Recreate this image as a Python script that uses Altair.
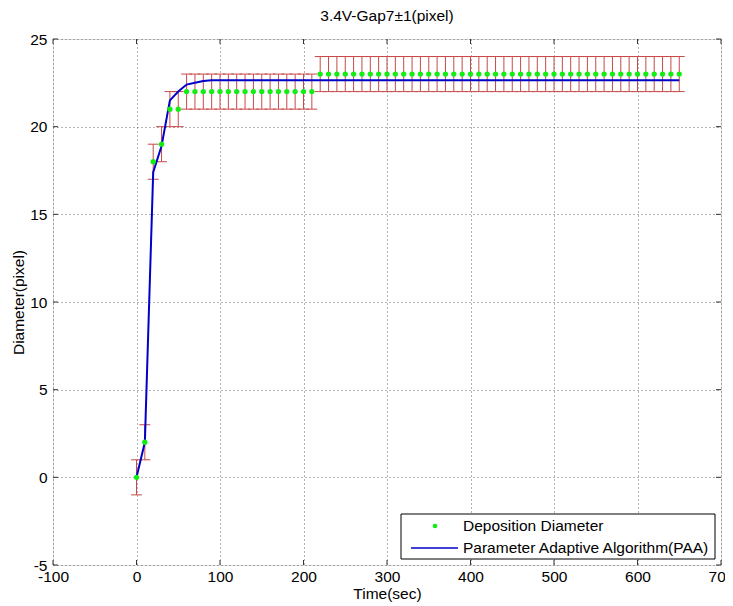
import altair as alt
import pandas as pd

# ---- data ----
time_sec = [0, 10, 20, 30, 40, 50, 60, 70, 80, 90, 100, 110, 120, 130, 140, 150,
            160, 170, 180, 190, 200, 210, 220, 230, 240, 250, 260, 270, 280, 290,
            300, 310, 320, 330, 340, 350, 360, 370, 380, 390, 400, 410, 420, 430,
            440, 450, 460, 470, 480, 490, 500, 510, 520, 530, 540, 550, 560, 570,
            580, 590, 600, 610, 620, 630, 640, 650]
deposition = [0, 2, 18, 19, 21, 21,
              22, 22, 22, 22, 22, 22, 22, 22, 22, 22, 22, 22, 22, 22, 22, 22,
              23, 23, 23, 23, 23, 23, 23, 23, 23, 23, 23, 23, 23, 23, 23, 23,
              23, 23, 23, 23, 23, 23, 23, 23, 23, 23, 23, 23, 23, 23, 23, 23,
              23, 23, 23, 23, 23, 23, 23, 23, 23, 23, 23, 23]
paa = [0, 2, 17.4, 18.9, 21.5, 22.0, 22.4, 22.5, 22.6, 22.65, 22.65, 22.65,
       22.65, 22.65, 22.65, 22.65, 22.65, 22.65, 22.65, 22.65, 22.65, 22.65,
       22.65, 22.65, 22.65, 22.65, 22.65, 22.65, 22.65, 22.65, 22.65, 22.65,
       22.65, 22.65, 22.65, 22.65, 22.65, 22.65, 22.65, 22.65, 22.65, 22.65,
       22.65, 22.65, 22.65, 22.65, 22.65, 22.65, 22.65, 22.65, 22.65, 22.65,
       22.65, 22.65, 22.65, 22.65, 22.65, 22.65, 22.65, 22.65, 22.65, 22.65,
       22.65, 22.65, 22.65, 22.65]
error = 1
x_ticks = [-100, 0, 100, 200, 300, 400, 500, 600, 700]
y_ticks = [-5, 0, 5, 10, 15, 20, 25]
legend_labels = ["Deposition Diameter", "Parameter Adaptive Algorithm(PAA)"]
title_text = "3.4V-Gap7±1(pixel)"

FONT = "Liberation Sans"
FS = 15.5
W, H = 668, 526
CAP = 6.5

df = pd.DataFrame({"t": time_sec, "d": deposition})
df_line = pd.DataFrame({"t": time_sec, "p": paa})
df_xt = pd.DataFrame({"v": x_ticks})
df_yt = pd.DataFrame({"v": y_ticks})

xscale = alt.Scale(domain=[-100, 700], nice=False, zero=False)
yscale = alt.Scale(domain=[-5, 25], nice=False, zero=False)

grid_kw = dict(grid=True, gridColor="#666666", gridDash=[1, 3], gridWidth=1,
               domain=False, ticks=False, labelFont=FONT, labelFontSize=FS,
               labelColor="black", titleFont=FONT, titleFontSize=FS,
               titleFontWeight="normal", titleColor="black", labelFlush=False,
               labelExpr="'' + datum.value")

xaxis = alt.Axis(values=x_ticks, title="Time(sec)", labelPadding=4,
                 titlePadding=2, **grid_kw)
yaxis = alt.Axis(values=y_ticks, title="Diameter(pixel)", labelPadding=6,
                 titlePadding=3, **grid_kw)


def X(f):
    return alt.X(f, scale=xscale, axis=xaxis)


def Y(f):
    return alt.Y(f, scale=yscale, axis=yaxis)


base = alt.Chart(df)

err_color = "#c84848"
err_v = base.transform_calculate(lo=f"datum.d - {error}", hi=f"datum.d + {error}").mark_rule(
    color=err_color, strokeWidth=1).encode(x=X("t:Q"), y=Y("lo:Q"), y2="hi:Q")
cap_lo = base.transform_calculate(
    xl=f"datum.t - {CAP}", xr=f"datum.t + {CAP}", yv=f"datum.d - {error}").mark_rule(
    color=err_color, strokeWidth=1).encode(x=X("xl:Q"), x2="xr:Q", y=Y("yv:Q"))
cap_hi = base.transform_calculate(
    xl=f"datum.t - {CAP}", xr=f"datum.t + {CAP}", yv=f"datum.d + {error}").mark_rule(
    color=err_color, strokeWidth=1).encode(x=X("xl:Q"), x2="xr:Q", y=Y("yv:Q"))

line = alt.Chart(df_line).mark_line(color="#0000c8", strokeWidth=2).encode(
    x=X("t:Q"), y=Y("p:Q"))

pts = base.mark_point(filled=True, shape="circle", size=28, color="#11ee11",
                      opacity=1).encode(x=X("t:Q"), y=Y("d:Q"))

# inward ticks on all four sides
tick_color = "#333333"
xt_bottom = alt.Chart(df_xt).mark_rule(color=tick_color).encode(
    x=X("v:Q"), y=alt.value(H), y2=alt.value(H - 5))
xt_top = alt.Chart(df_xt).mark_rule(color=tick_color).encode(
    x=X("v:Q"), y=alt.value(0), y2=alt.value(5))
yt_left = alt.Chart(df_yt).mark_rule(color=tick_color).encode(
    y=Y("v:Q"), x=alt.value(0), x2=alt.value(5))
yt_right = alt.Chart(df_yt).mark_rule(color=tick_color).encode(
    y=Y("v:Q"), x=alt.value(W), x2=alt.value(W - 5))

# legend
LX0, LX1, LY0, LY1 = 348, 662, 475, 520
leg_df = pd.DataFrame({"label": legend_labels})
leg_box = alt.Chart(leg_df.head(1)).mark_rect(
    fill="white", stroke="black", strokeWidth=1).encode(
    x=alt.value(LX0), x2=alt.value(LX1), y=alt.value(LY0), y2=alt.value(LY1))
leg_dot = alt.Chart(leg_df.head(1)).mark_point(
    filled=True, shape="circle", size=22, color="#11ee11", opacity=1).encode(
    x=alt.value(382), y=alt.value(487))
leg_line = alt.Chart(leg_df.head(1)).mark_rule(
    color="#0000c8", strokeWidth=1.5).encode(
    x=alt.value(358), x2=alt.value(405), y=alt.value(509))
leg_t1 = alt.Chart(leg_df.iloc[[0]]).mark_text(
    align="left", baseline="middle", font=FONT, fontSize=FS, color="black").encode(
    x=alt.value(410), y=alt.value(487), text="label:N")
leg_t2 = alt.Chart(leg_df.iloc[[1]]).mark_text(
    align="left", baseline="middle", font=FONT, fontSize=FS, color="black").encode(
    x=alt.value(410), y=alt.value(509), text="label:N")

chart = alt.layer(
    err_v, cap_lo, cap_hi, line, pts,
    xt_bottom, xt_top, yt_left, yt_right,
    leg_box, leg_dot, leg_line, leg_t1, leg_t2,
).properties(
    width=W, height=H,
    title=alt.TitleParams(title_text, font=FONT, fontSize=FS,
                          fontWeight="normal", color="black", offset=8),
    autosize=alt.AutoSizeParams(type="none"),
    padding={"left": 45, "top": 31, "right": 4, "bottom": 39},
).configure_view(stroke="black", strokeWidth=1).configure(background="white")

chart.save("out.html", embed_options={"renderer": "svg", "actions": False})
